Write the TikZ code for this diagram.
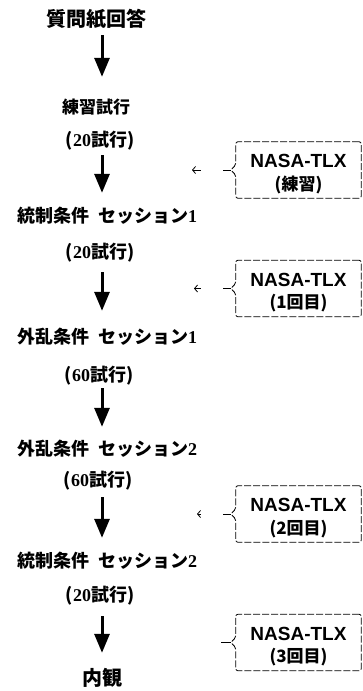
\documentclass[tikz,border=0pt]{standalone}
\usepackage{fontspec}
\usetikzlibrary{arrows.meta}
\newfontfamily\jpf{Noto Sans CJK JP}
\newfontfamily\latsans{Liberation Sans}
\newfontfamily\numf{Liberation Serif}
\newcommand\dg[1]{{\numf #1}}
\newcommand\fbig{\jpf\bfseries\fontsize{20}{22}\selectfont}
\newcommand\fmid{\jpf\bfseries\fontsize{18}{20}\selectfont}
\newcommand\fsmall{\jpf\bfseries\fontsize{17}{19}\selectfont}
\newcommand\ftlx{\latsans\bfseries\fontsize{19}{21}\selectfont}
\begin{document}
\begin{tikzpicture}[x=1pt,y=-1pt,
  jplabel/.style={inner sep=0pt, text height=14pt, text depth=1.5pt},
  bigarrow/.style={line width=3pt, -{Triangle[width=15pt,length=19pt]}},
  tlxbox/.style={minimum width=125pt, minimum height=56pt, inner sep=0pt},
  tlxline/.style={line width=0.8pt, dash pattern=on 7pt off 2pt, rounded corners=2pt},
  tlxlink/.style={line width=0.8pt, dash pattern=on 8pt off 22pt, -{Straight Barb[length=3pt,width=7pt]}},
  tlxstub/.style={line width=0.8pt},
  tlxtitle/.style={inner sep=0pt, font=\ftlx},
  tlxsub/.style={inner sep=0pt, font=\fsmall}
]
\useasboundingbox[fill=white] (0,0) rectangle (363,691);
\coordinate (ax) at (102,0);

% main flow
\node[jplabel, font=\fbig, anchor=center] (q) at (96,20) {質問紙回答};
\node[jplabel, font=\fsmall] (pr) at (96,107) {練習試行};
\node[jplabel, font=\fmid] (t1) at (100,140) {(\dg{20}試行)};
\node[jplabel, font=\fmid, anchor=west] (c1) at (17,216) {統制条件\hspace{9pt}セッション\dg{1}};
\node[jplabel, font=\fmid] (t2) at (100,252) {(\dg{20}試行)};
\node[jplabel, font=\fmid, anchor=west] (d1) at (17,337) {外乱条件\hspace{9pt}セッション\dg{1}};
\node[jplabel, font=\fmid] (t3) at (99,375) {(\dg{60}試行)};
\node[jplabel, font=\fmid, anchor=west] (d2) at (17,449) {外乱条件\hspace{9pt}セッション\dg{2}};
\node[jplabel, font=\fmid] (t4) at (98,480) {(\dg{60}試行)};
\node[jplabel, font=\fmid, anchor=west] (c2) at (17,561) {統制条件\hspace{9pt}セッション\dg{2}};
\node[jplabel, font=\fmid] (t5) at (100,595) {(\dg{20}試行)};
\node[jplabel, font=\fbig] (nk) at (102,679) {内観};

\draw[bigarrow, shorten <=7.25pt, shorten >=22.25pt] (q.south -| ax) -- (pr.north -| ax);
\draw[bigarrow, shorten <=7.25pt, shorten >=15.25pt] (t1.south -| ax) -- (c1.north -| ax);
\draw[bigarrow, shorten <=12.25pt, shorten >=18.25pt] (t2.south -| ax) -- (d1.north -| ax);
\draw[bigarrow, shorten <=5.25pt, shorten >=14.25pt] (t3.south -| ax) -- (d2.north -| ax);
\draw[bigarrow, shorten <=9.25pt, shorten >=15.25pt] (t4.south -| ax) -- (c2.north -| ax);
\draw[bigarrow, shorten <=13.25pt, shorten >=18.25pt] (t5.south -| ax) -- (nk.north -| ax);

% NASA-TLX boxes
\foreach \nm/\yy/\sub in {b1/170/(練習), b2/288.5/(1回目), b3/514/(2回目), b4/642.5/(3回目)}{
  \node[tlxbox] (\nm) at (298.5,\yy) {};
  \node[tlxtitle] (\nm t) at ([yshift=9pt]\nm.center) {NASA-TLX};
  \node[tlxsub] (\nm s) at ([yshift=-15pt]\nm.center) {\sub};
  \coordinate (\nm tip) at ([xshift=-5pt]\nm.west);
  \draw[tlxline] (\nm.north east) -- (\nm.north west) -- ([yshift=5pt]\nm.west)
     -- (\nm tip) -- ([yshift=-5pt]\nm.west) -- (\nm.south west) -- (\nm.south east) -- cycle;
}
\coordinate (e1) at (192,170);
\coordinate (e2) at (194,288.5);
\coordinate (e3) at (197,514);
\coordinate (e4) at (221,642.5);
\draw[tlxlink] (b1tip) -- (e1);
\draw[tlxlink] (b2tip) -- (e2);
\draw[tlxlink] (b3tip) -- (e3);
\draw[tlxstub] (b4tip) -- (e4);
\end{tikzpicture}
\end{document}
